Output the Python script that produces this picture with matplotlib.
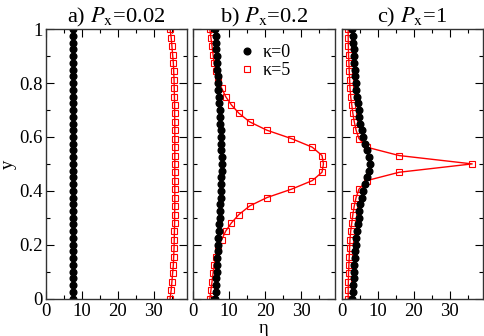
import matplotlib
matplotlib.use("Agg")
import matplotlib.pyplot as plt
from matplotlib.ticker import MultipleLocator, FormatStrFormatter

plt.rcParams['font.family'] = ['Liberation Serif', 'DejaVu Serif']
plt.rcParams['mathtext.fontset'] = 'stix'
plt.rcParams['font.size'] = 13.5

# y grids
y_k0 = [0.0, 0.025, 0.05, 0.075, 0.1, 0.125, 0.15, 0.175, 0.2, 0.225, 0.25,
        0.275, 0.3, 0.325, 0.35, 0.375, 0.4, 0.425, 0.45, 0.475, 0.5,
        0.525, 0.55, 0.575, 0.6, 0.625, 0.65, 0.675, 0.7, 0.725, 0.75,
        0.775, 0.8, 0.825, 0.85, 0.875, 0.9, 0.925, 0.95, 0.975, 1.0]
y_k5 = [0.0, 0.031, 0.062, 0.094, 0.125, 0.156, 0.188, 0.219, 0.25, 0.281,
        0.312, 0.344, 0.375, 0.406, 0.438, 0.469, 0.5, 0.531, 0.562, 0.594,
        0.625, 0.656, 0.688, 0.719, 0.75, 0.781, 0.812, 0.844, 0.875, 0.906,
        0.938, 0.969, 1.0]

# a) Px = 0.02
a_k0 = [7.7, 7.7, 7.7, 7.7, 7.7, 7.7, 7.7, 7.7, 7.7, 7.7, 7.7,
        7.7, 7.7, 7.7, 7.7, 7.7, 7.7, 7.7, 7.7, 7.7, 7.7,
        7.7, 7.7, 7.7, 7.7, 7.7, 7.7, 7.7, 7.7, 7.7, 7.7,
        7.7, 7.7, 7.7, 7.7, 7.7, 7.7, 7.7, 7.7, 7.7, 7.7]
a_k5 = [34.6, 34.9, 35.1, 35.3, 35.5, 35.6, 35.7, 35.75, 35.8, 35.85, 35.85,
        35.9, 35.9, 35.9, 35.9, 35.9, 35.9, 35.9, 35.9, 35.9, 35.9, 35.9,
        35.85, 35.85, 35.8, 35.75, 35.7, 35.6, 35.5, 35.3, 35.1, 34.9, 34.6]

# b) Px = 0.2
b_k0 = [6.1, 6.2, 6.3, 6.4, 6.5, 6.6, 6.7, 6.8, 6.9, 7.0, 7.1,
        7.2, 7.3, 7.4, 7.5, 7.6, 7.7, 7.75, 7.8, 7.85, 7.9,
        7.85, 7.8, 7.75, 7.7, 7.6, 7.5, 7.4, 7.3, 7.2, 7.1,
        7.0, 6.9, 6.8, 6.7, 6.6, 6.5, 6.4, 6.3, 6.2, 6.1]
b_k5 = [4.6, 4.9, 5.2, 5.5, 5.8, 6.3, 6.9, 7.9, 9.0, 10.6, 12.7,
        15.7, 20.5, 27.3, 33.1, 35.8, 36.2, 35.8, 33.1, 27.3, 20.5, 15.7,
        12.7, 10.6, 9.0, 7.9, 6.9, 6.3, 5.8, 5.5, 5.2, 4.9, 4.6]

# c) Px = 1
c_k0 = [3.0, 3.1, 3.2, 3.3, 3.4, 3.5, 3.6, 3.75, 3.9, 4.05, 4.2,
        4.45, 4.7, 4.95, 5.2, 5.6, 6.05, 6.55, 7.05, 7.5, 7.85,
        7.5, 7.05, 6.55, 6.05, 5.6, 5.2, 4.95, 4.7, 4.45, 4.2,
        4.05, 3.9, 3.75, 3.6, 3.5, 3.4, 3.3, 3.2, 3.1, 3.0]
c_k5 = [1.8, 1.8, 1.85, 1.9, 2.0, 2.1, 2.2, 2.3, 2.5, 2.8, 3.1,
        3.5, 4.0, 4.8, 7.0, 16.0, 36.3, 16.0, 7.0, 4.8, 4.0, 3.5,
        3.1, 2.8, 2.5, 2.3, 2.2, 2.1, 2.0, 1.9, 1.85, 1.8, 1.8]

panels = [("a", "0.02", a_k0, a_k5), ("b", "0.2", b_k0, b_k5), ("c", "1", c_k0, c_k5)]

fig = plt.figure(figsize=(4.85, 3.36), dpi=100)
lefts = [45.7, 193.3, 341.7]
w = 141.3
for i, (lab, px, k0, k5) in enumerate(panels):
    ax = fig.add_axes([lefts[i] / 485, 1 - 298.5 / 336, w / 485, 269.2 / 336])
    ax.plot(k5, y_k5, '-', color='red', lw=1.0)
    l5, = ax.plot(k5, y_k5, 's', mfc='none', mec='red', ms=4.4, mew=0.8, label=u'\u03ba=5')
    ax.plot(k0, y_k0, '-', color='black', lw=1.0)
    l0, = ax.plot(k0, y_k0, 'o', color='black', ms=4.8, label=u'\u03ba=0')
    ax.set_xlim(0, 39.3)
    ax.set_ylim(0, 1)
    ax.xaxis.set_major_locator(MultipleLocator(10))
    ax.xaxis.set_minor_locator(MultipleLocator(5))
    ax.yaxis.set_major_locator(MultipleLocator(0.2))
    ax.yaxis.set_minor_locator(MultipleLocator(0.1))
    ax.tick_params(which='both', direction='in', top=True, right=True, width=0.8)
    ax.tick_params(which='major', length=6, pad=2)
    ax.tick_params(which='minor', length=3)
    ax.tick_params(axis='x', pad=3)
    for s in ax.spines.values():
        s.set_linewidth(1.0)
        s.set_color('#333333')
    ax.set_title(lab + r") $P_{\rm x}$=" + px, pad=3)
    if i == 0:
        ax.yaxis.set_major_formatter(FormatStrFormatter('%g'))
        ax.set_ylabel("y", labelpad=2)
    else:
        ax.set_yticklabels([])
    if i == 1:
        ax.set_xlabel(u"\u03b7", labelpad=0)
        ax.legend([l0, l5], [u'\u03ba=0', u'\u03ba=5'], loc='upper left',
                  bbox_to_anchor=(0.315, 0.945), frameon=False, handlelength=1.0,
                  handletextpad=0.4, borderaxespad=0, borderpad=0,
                  labelspacing=0.05, fontsize=13)

fig.savefig("out.png", dpi=100)
